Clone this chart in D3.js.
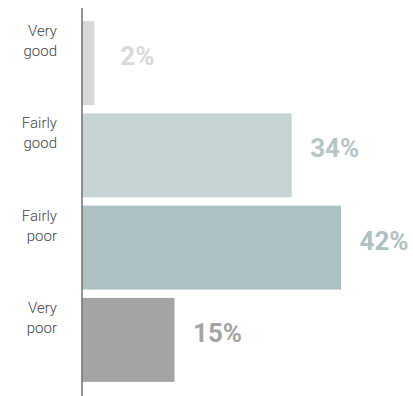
<!DOCTYPE html>
<html>
<head>
<meta charset="utf-8">
<script src="https://cdn.jsdelivr.net/npm/d3@7"></script>
<style>
  html, body { margin: 0; padding: 0; background: #fff; }
  svg { display: block; }
</style>
</head>
<body>
<div id="chart"></div>
<script>
// Self-rated health, share of respondents
const categories = [["Very", "good"], ["Fairly", "good"], ["Fairly", "poor"], ["Very", "poor"]];
const values = [2, 34, 42, 15];
const barColors = ["#d7d8d8", "#c6d4d5", "#aec1c3", "#a4a4a7"];
const labelColors = ["#d9d9d9", "#b6c6c8", "#aec1c3", "#a4a4a7"];

const W = 413, H = 396;
const axisX = 82;

const svg = d3.select("#chart").append("svg")
  .attr("width", W).attr("height", H);

const keys = categories.map(c => c.join(" "));

const y = d3.scaleBand()
  .domain(keys)
  .range([17, 386])
  .paddingInner(0.09)
  .paddingOuter(0.045);

const x = d3.scaleLinear()
  .domain([0, 42])
  .range([axisX, 341]);

// bars
svg.append("g").selectAll("rect")
  .data(values)
  .join("rect")
  .attr("x", x(0))
  .attr("y", (d, i) => y(keys[i]))
  .attr("width", d => x(d) - x(0))
  .attr("height", y.bandwidth())
  .attr("fill", (d, i) => barColors[i]);

// value labels
svg.append("g").selectAll("text")
  .data(values)
  .join("text")
  .attr("x", d => x(d) + 43)
  .attr("y", (d, i) => y(keys[i]) + y.bandwidth() / 2 + 2)
  .attr("text-anchor", "middle")
  .attr("font-family", "Roboto, sans-serif")
  .attr("font-weight", 700)
  .attr("font-size", 26)
  .attr("fill", (d, i) => labelColors[i])
  .text(d => d + "%");

// category labels, two lines each, aligned to the top of the bar
const cat = svg.append("g").selectAll("text")
  .data(categories)
  .join("text")
  .attr("text-anchor", "end")
  .attr("font-family", "Roboto, sans-serif")
  .attr("font-weight", 300)
  .attr("font-size", 15)
  .attr("fill", "#444");

cat.each(function (lines, i) {
  const t = d3.select(this);
  lines.forEach((s, j) => {
    t.append("tspan")
      .attr("x", 57)
      .attr("y", y(keys[i]) + 15 + j * 20)
      .text(s);
  });
});

// vertical axis line
svg.append("line")
  .attr("x1", axisX).attr("x2", axisX)
  .attr("y1", 8).attr("y2", H)
  .attr("stroke", "#7a7a7a")
  .attr("stroke-width", 1.6);
</script>
</body>
</html>
